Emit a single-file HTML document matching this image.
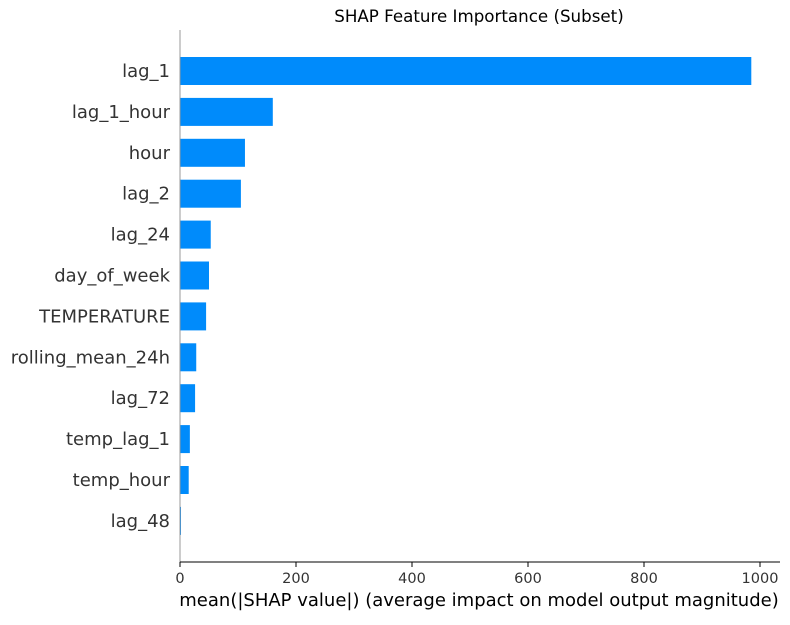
<!DOCTYPE html>
<html><head><meta charset="utf-8"><style>
body{margin:0;background:#fff;}
svg text{font-family:"DejaVu Sans","Liberation Sans",sans-serif;}
</style></head><body>
<svg width="790" height="620" xmlns="http://www.w3.org/2000/svg">
<text x="479" y="22" text-anchor="middle" font-size="16.7" fill="#000">SHAP Feature Importance (Subset)</text>
<g id="bars"></g>
<line x1="180" y1="30" x2="180" y2="562" stroke="#999" stroke-width="1"/>
<line x1="180" y1="562" x2="780" y2="562" stroke="#000" stroke-width="1"/>
<g id="ticks"></g>
<text x="479" y="606" text-anchor="middle" font-size="18" fill="#000">mean(|SHAP value|) (average impact on model output magnitude)</text>
</svg>
<script>
const features=["lag_1","lag_1_hour","hour","lag_2","lag_24","day_of_week","TEMPERATURE","rolling_mean_24h","lag_72","temp_lag_1","temp_hour","lag_48"];
const values=[985,160,112,105,53,50,45,28,26,17,15,1];
const tickValues=[0,200,400,600,800,1000];
const NS="http://www.w3.org/2000/svg";
const x=v=>180+v*0.58;
const y=i=>71+i*40.9;
const bars=document.getElementById('bars'),ticks=document.getElementById('ticks');
features.forEach((f,i)=>{
  const r=document.createElementNS(NS,'rect');
  r.setAttribute('x',x(0));r.setAttribute('y',y(i)-14);
  r.setAttribute('width',Math.max(1,x(values[i])-x(0)));r.setAttribute('height',28);
  r.setAttribute('fill','#008bfb');
  
  
  bars.appendChild(r);
  const t=document.createElementNS(NS,'text');
  t.setAttribute('x',170);t.setAttribute('y',y(i)+6);t.setAttribute('text-anchor','end');
  t.setAttribute('font-size','18');t.setAttribute('fill','#333');
  t.textContent=f;
  
  
  bars.appendChild(t);
});
tickValues.forEach(v=>{
  const l=document.createElementNS(NS,'line');
  l.setAttribute('x1',x(v));l.setAttribute('x2',x(v));l.setAttribute('y1',562);l.setAttribute('y2',567);
  l.setAttribute('stroke','#000');
  
  
  ticks.appendChild(l);
  const t=document.createElementNS(NS,'text');
  t.setAttribute('x',x(v));t.setAttribute('y',583);t.setAttribute('text-anchor','middle');
  t.setAttribute('font-size','14.5');t.setAttribute('fill','#333');
  t.textContent=v;
  
  
  ticks.appendChild(t);
});
</script>
</body></html>
